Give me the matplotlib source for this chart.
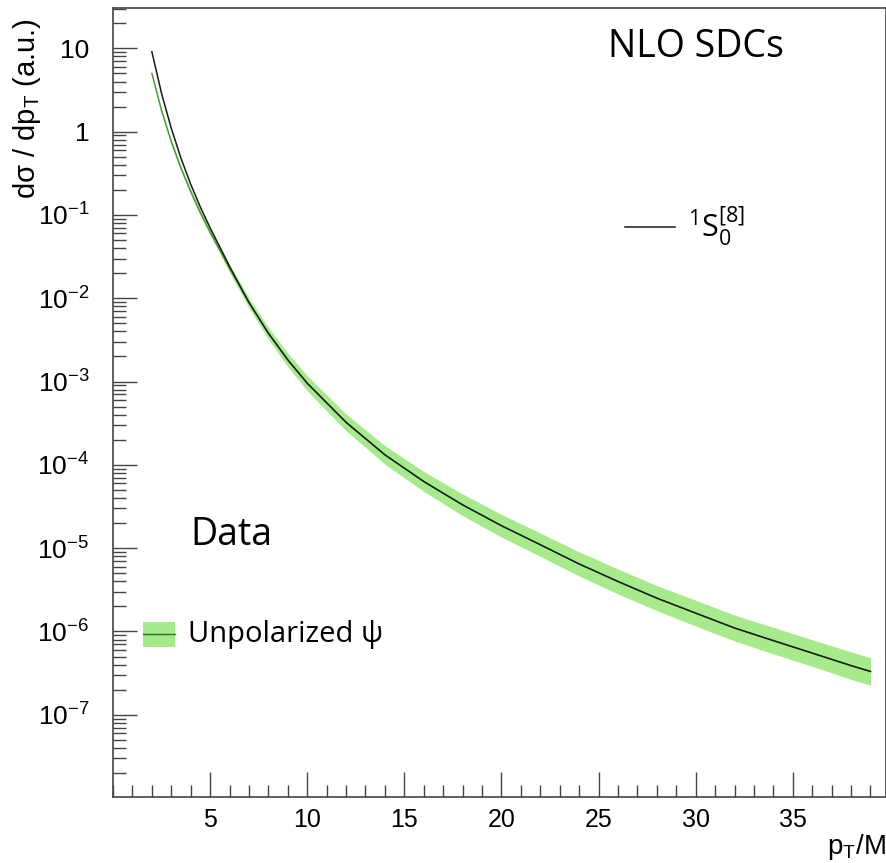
import numpy as np
import matplotlib
matplotlib.use("Agg")
import matplotlib.pyplot as plt
from matplotlib.ticker import FixedLocator, MultipleLocator, NullFormatter
from matplotlib.patches import Rectangle
from matplotlib.lines import Line2D

plt.rcParams['font.family'] = ['Liberation Sans', 'DejaVu Sans']

# pT/M grid
pt = [2, 2.5, 3, 3.5, 4, 4.5, 5, 5.5, 6, 7, 8, 9, 10, 12, 14, 16, 18, 20,
      22, 24, 26, 28, 30, 32, 34, 36, 38, 39]

# NLO short-distance coefficient, 1S0[8]
sdc_1s08 = [9.12, 2.88, 1.10, 0.479, 0.234, 0.124, 0.0700, 0.0412, 0.0240,
            8.91e-3, 3.80e-3, 1.82e-3, 9.55e-4, 3.24e-4, 1.32e-4, 6.31e-5,
            3.31e-5, 1.86e-5, 1.10e-5, 6.46e-6, 3.98e-6, 2.51e-6, 1.66e-6,
            1.10e-6, 7.76e-7, 5.50e-7, 3.89e-7, 3.31e-7]

# unpolarized psi data: central value and band edges
data_c = [5.01, 1.78, 0.759, 0.363, 0.191, 0.106, 0.0624, 0.0380, 0.0229,
          8.81e-3, 3.80e-3, 1.82e-3, 9.55e-4, 3.24e-4, 1.32e-4, 6.31e-5,
          3.31e-5, 1.86e-5, 1.10e-5, 6.46e-6, 3.98e-6, 2.51e-6, 1.66e-6,
          1.10e-6, 7.76e-7, 5.50e-7, 3.89e-7, 3.31e-7]
data_lo = [4.78, 1.70, 0.717, 0.339, 0.178, 0.0978, 0.0569, 0.0343, 0.0204,
           7.67e-3, 3.23e-3, 1.51e-3, 7.76e-4, 2.57e-4, 1.02e-4, 4.79e-5,
           2.45e-5, 1.36e-5, 7.97e-6, 4.63e-6, 2.82e-6, 1.78e-6, 1.16e-6,
           7.70e-7, 5.37e-7, 3.81e-7, 2.66e-7, 2.26e-7]
data_hi = [5.25, 1.86, 0.804, 0.389, 0.205, 0.115, 0.0684, 0.0421, 0.0257,
           1.01e-2, 4.47e-3, 2.19e-3, 1.17e-3, 4.08e-4, 1.70e-4, 8.32e-5,
           4.47e-5, 2.54e-5, 1.52e-5, 9.02e-6, 5.62e-6, 3.55e-6, 2.37e-6,
           1.57e-6, 1.12e-6, 7.95e-7, 5.69e-7, 4.84e-7]

x_ticks = [5, 10, 15, 20, 25, 30, 35]
y_decades = [-7, -6, -5, -4, -3, -2, -1, 0, 1]

band_col = '#a6ea8c'
data_col = '#3f9a2c'

fig = plt.figure(figsize=(8.87, 8.63), dpi=100)
ax = fig.add_axes([0.1274, 0.0765, 0.8715, 0.9142])

ax.fill_between(pt, data_lo, data_hi, color=band_col, lw=0)
ax.plot(pt, data_c, color=data_col, lw=1.0)
ax.plot(pt, sdc_1s08, color='#1a1a1a', lw=1.1)

ax.set_yscale('log')
ax.set_xlim(0, 39.8)
ax.set_ylim(1.03e-8, 30.5)

# ROOT-like axes
for s in ax.spines.values():
    s.set_color('#444444')
    s.set_linewidth(1.2)
ax.xaxis.set_major_locator(FixedLocator(x_ticks))
ax.xaxis.set_minor_locator(MultipleLocator(1))
ax.yaxis.set_major_locator(FixedLocator([10.0 ** e for e in y_decades]))
minors = [m * 10.0 ** e for e in range(-8, 2) for m in range(2, 10)]
ax.yaxis.set_minor_locator(FixedLocator(minors))
ax.yaxis.set_minor_formatter(NullFormatter())
ax.tick_params(axis='both', which='both', direction='in', color='#444444',
               top=False, right=False)
ax.tick_params(axis='x', which='major', length=18, width=1.0, pad=8, labelsize=18)
ax.tick_params(axis='x', which='minor', length=9, width=1.0)
ax.tick_params(axis='y', which='major', length=17, width=1.0, pad=17, labelsize=19)
ax.tick_params(axis='y', which='minor', length=9, width=1.0)

def ylab(v, _):
    e = int(round(np.log10(v)))
    if e == 1:
        return '10'
    if e == 0:
        return '1'
    return r'$\mathdefault{10^{%d}}$' % e
ax.yaxis.set_major_formatter(plt.FuncFormatter(ylab))

fig.text(0.031, 1 - 18 / 863, 'dσ / dp$_\\mathdefault{T}$ (a.u.)',
         rotation=90, ha='center', va='top', fontsize=21)
fig.text(0.999, 0.001, r'p$_\mathdefault{T}$/M', ha='right', va='bottom', fontsize=20)

ax.text(608 / 887, 1 - 57 / 863, 'NLO SDCs', transform=fig.transFigure,
        fontsize=27, family='Open Sans', ha='left', va='baseline')
ax.text(190 / 887, 1 - 545 / 863, 'Data', transform=fig.transFigure,
        fontsize=27, family='Open Sans', ha='left', va='baseline')

# legend entries
fig.add_artist(Line2D([625 / 887, 675 / 887], [1 - 227 / 863] * 2,
                      color='#1a1a1a', lw=1.1))
fig.text(688 / 887, 1 - 227 / 863, r'$\mathdefault{{}^{1}S_{0}^{[8]}}$',
         family='Open Sans', fontsize=22, ha='left', va='center')

fig.add_artist(Rectangle((143 / 887, 1 - 647 / 863), 32 / 887, 25 / 863,
                         transform=fig.transFigure, color=band_col, lw=0))
fig.add_artist(Line2D([143 / 887, 175 / 887], [1 - 634 / 863] * 2,
                      color='#2e6e2e', lw=1.0))
fig.text(188 / 887, 1 - 634 / 863, 'Unpolarized ψ', family='Open Sans',
         fontsize=21, ha='left', va='center')

fig.savefig('out.png', dpi=100)
